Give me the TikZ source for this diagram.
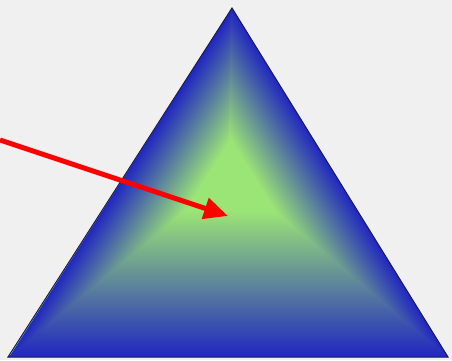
\documentclass[tikz,border=0pt]{standalone}
\usetikzlibrary{arrows.meta}
\definecolor{bg}{RGB}{240,240,240}
\definecolor{edgeblue}{RGB}{32,38,192}
\definecolor{midblue}{RGB}{100,146,172}
\definecolor{centergreen}{RGB}{155,228,118}
\definecolor{outline}{RGB}{25,25,90}
\definecolor{arrowred}{RGB}{255,0,0}
\tikzset{
  grad/.style={bottom color=edgeblue, middle color=midblue, top color=centergreen},
  pointer/.style={draw=arrowred, line width=5pt, -{Triangle[length=24pt,width=21pt]}},
}
\begin{document}
\begin{tikzpicture}[x=1pt,y=1pt]
\fill[bg] (0,0) rectangle (452,360);
\useasboundingbox (0,0) rectangle (452,360);
\coordinate (A) at (232,352);
\coordinate (BL) at (8,3);
\coordinate (BR) at (448,3);
\coordinate (C) at (230,188);
\begin{scope}
  \clip (A) -- (BL) -- (BR) -- cycle;
  \fill[centergreen] (0,0) rectangle (452,360);
  % bottom band
  \begin{scope}
    \clip (BL) -- (BR) -- (C) -- cycle;
    \shade[grad] (0,3) rectangle (452,149);
  \end{scope}
  % left band
  \begin{scope}
    \clip (A) -- ([shift={(0.7,-0.9)}]BL) -- ([shift={(0.7,-0.9)}]C) -- (C) -- cycle;
    \begin{scope}[transform canvas={shift={(232pt,352pt)},rotate=237.3}]
      \shade[grad] (-30,0) rectangle (450,69.5);
    \end{scope}
  \end{scope}
  % right band
  \begin{scope}
    \clip (BR) -- (A) -- ([shift={(-1.2,0)}]A) -- ([shift={(-1.2,-1.2)}]C) -- ([shift={(-0.7,-0.9)}]BR) -- cycle;
    \begin{scope}[transform canvas={shift={(448pt,3pt)},rotate=121.75}]
      \shade[grad] (-30,0) rectangle (450,70.4);
    \end{scope}
  \end{scope}
\end{scope}
\draw[outline, line width=1pt, line join=miter] (A) -- (BL) -- (BR) -- cycle;
\coordinate (start) at (0,220);
\coordinate (tip) at (228,144);
\draw[pointer] (start) -- (tip);
\end{tikzpicture}
\end{document}
